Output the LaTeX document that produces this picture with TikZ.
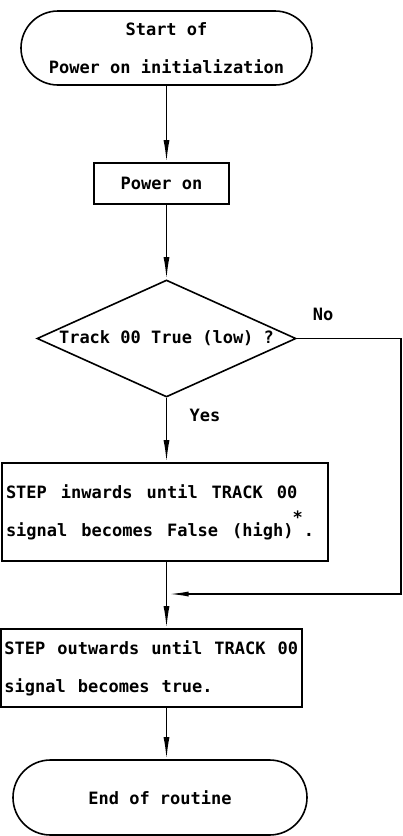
\documentclass[tikz,border=0pt]{standalone}
\usepackage{fontspec}
\newfontfamily\flowfont{DejaVu Sans Mono}
\usetikzlibrary{arrows.meta,calc,shapes.geometric,shapes.misc}
\tikzset{
	flow/.style={line width=1.6pt, -{Latex[length=22pt,width=6pt]}},
	txt/.style={font={\flowfont\bfseries\fontsize{17}{38}\selectfont}},
	widetxt/.style={execute at begin node={\spaceskip=#1\relax}},
	terminal/.style={txt, draw, line width=1.6pt, rounded rectangle, inner sep=0pt, align=center},
	procbox/.style={txt, draw, line width=1.6pt, rectangle, inner sep=3.5pt},
	decision/.style={draw, line width=1.6pt, diamond, inner sep=0pt}
}

\begin{document}
\begin{tikzpicture}[x=1pt, y=-1pt]
		%%%%% FRAME %%%%%
		\useasboundingbox (0, 0) rectangle (402, 836);
		
		%%%%% NODES %%%%%
		\node[terminal, minimum width=291pt, minimum height=74pt] (start) at (166.5, 48) {Start of\\Power on initialization};
		\node[procbox, minimum width=135pt, minimum height=41pt] (poweron) at (161.5, 183.5) {Power on};
		\node[decision, minimum width=259pt, minimum height=117pt,
			label={[txt]center:Track 00 True (low) ?}] (dec) at (166.5, 338.5) {};
		\node[procbox, widetxt=14pt, minimum width=326pt, minimum height=98pt, align=left, text width=318pt] (inward) at (165, 512)
			{STEP inwards until TRACK 00\\signal becomes False (high)\kern-1pt\raisebox{1.4ex}{*}\kern1pt.};
		\node[procbox, widetxt=12pt, minimum width=301pt, minimum height=78pt, align=left, text width=294pt] (outward) at (151.5, 668)
			{STEP outwards until TRACK 00\\signal becomes true.};
		\node[terminal, minimum width=294pt, minimum height=75pt] (stop) at (160, 797.5) {End of routine};
		
		\node[txt] (no) at (323, 314) {No};
		\node[txt] (yes) at (205, 415) {Yes};
		
		\coordinate (merge) at (start |- 0, 594);
		\coordinate (edgetop) at (401, 338.5);
		\coordinate (edgebot) at (401, 594);
		
		%%%%% CONNECTORS %%%%%
		\draw[flow] (start.south) -- (start.south |- poweron.north);
		\draw[flow] (start.south |- poweron.south) -- (dec.north);
		\draw[flow] (dec.south) -- (dec.south |- inward.north);
		\draw[line width=1.6pt] (dec.south |- inward.south) -- (merge);
		\draw[flow] (merge) -- (merge |- outward.north);
		\draw[flow] (start.south |- outward.south) -- (start.south |- stop.north);
		
		\draw[line width=1.6pt] (dec.east) -- (edgetop) -- (edgebot) -- ($(merge)+(24,0)$);
		\draw[flow, -{Latex[length=20pt,width=5pt]}, shorten >=2pt] ($(merge)+(24,0)$) -- (merge);
		%%%%% END %%%%%
	\end{tikzpicture}
\end{document}
